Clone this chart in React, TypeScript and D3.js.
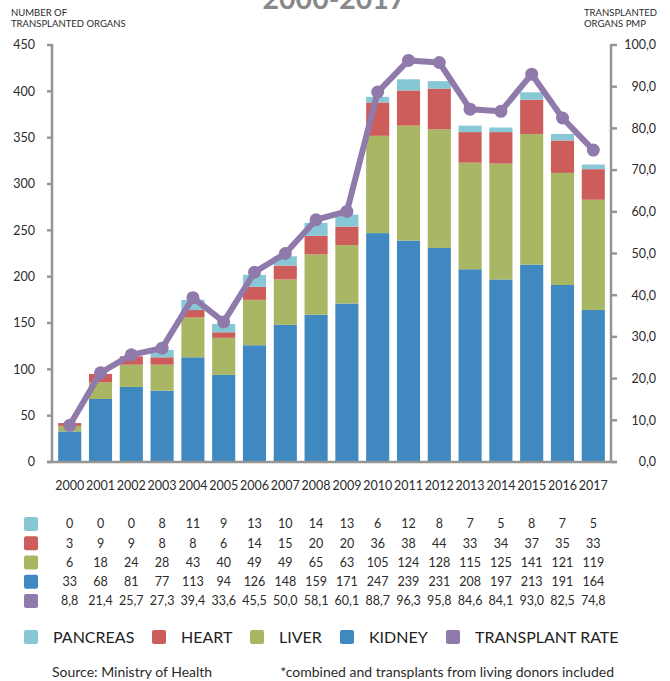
import React, { useEffect, useRef } from "react";
import * as d3 from "d3";

const years = ["2000", "2001", "2002", "2003", "2004", "2005", "2006", "2007", "2008", "2009", "2010", "2011", "2012", "2013", "2014", "2015", "2016", "2017"];
const pancreas = [0, 0, 0, 8, 11, 9, 13, 10, 14, 13, 6, 12, 8, 7, 5, 8, 7, 5];
const heart = [3, 9, 9, 8, 8, 6, 14, 15, 20, 20, 36, 38, 44, 33, 34, 37, 35, 33];
const liver = [6, 18, 24, 28, 43, 40, 49, 49, 65, 63, 105, 124, 128, 115, 125, 141, 121, 119];
const kidney = [33, 68, 81, 77, 113, 94, 126, 148, 159, 171, 247, 239, 231, 208, 197, 213, 191, 164];
const rate = [8.8, 21.4, 25.7, 27.3, 39.4, 33.6, 45.5, 50.0, 58.1, 60.1, 88.7, 96.3, 95.8, 84.6, 84.1, 93.0, 82.5, 74.8];
const leftTicks = [0, 50, 100, 150, 200, 250, 300, 350, 400, 450];
const rightTicks = [0, 10, 20, 30, 40, 50, 60, 70, 80, 90, 100];

const colors = {
  pancreas: "#88c8d6",
  heart: "#cc5d5a",
  liver: "#a9b663",
  kidney: "#3f88c0",
  rate: "#8f7aab",
};

const FONT = "Lato, 'Open Sans', sans-serif";

function App() {
  const ref = useRef<SVGSVGElement>(null);

  useEffect(() => {
    const svg = d3.select(ref.current);
    svg.selectAll("*").remove();

    const left = 52, right = 611, top = 45, bottom = 462;
    const axisColor = "#959595";
    const textColor = "#2b2b2b";

    const x = d3.scaleBand().domain(years).range([left, right]).paddingInner(0.25).paddingOuter(0.2);
    const y = d3.scaleLinear().domain([0, 450]).range([bottom, top]);
    const y2 = d3.scaleLinear().domain([0, 100]).range([bottom, top]);

    // title, mostly cut off at the top (as in the original)
    svg.append("text")
      .attr("x", 334).attr("y", 9)
      .attr("text-anchor", "middle")
      .attr("font-family", FONT).attr("font-weight", "bold")
      .attr("font-size", 28.5).attr("fill", "#88888b")
      .text("2000-2017");

    // axis titles
    const titleL = svg.append("text").attr("font-family", FONT).attr("font-size", 9.5).attr("fill", textColor);
    titleL.append("tspan").attr("x", 11).attr("y", 16).text("NUMBER OF");
    titleL.append("tspan").attr("x", 11).attr("y", 27).text("TRANSPLANTED ORGANS");
    const titleR = svg.append("text").attr("font-family", FONT).attr("font-size", 9.5).attr("fill", textColor);
    titleR.append("tspan").attr("x", 584).attr("y", 16).text("TRANSPLANTED");
    titleR.append("tspan").attr("x", 584).attr("y", 27).text("ORGANS PMP");

    // stacked bars
    const rows = years.map((yr, i) => ({
      year: yr,
      kidney: kidney[i],
      liver: liver[i],
      heart: heart[i],
      pancreas: pancreas[i],
    }));
    const keys = ["kidney", "liver", "heart", "pancreas"];
    const stack = d3.stack<any>().keys(keys)(rows);

    const g = svg.append("g");
    g.selectAll("g.layer")
      .data(stack)
      .join("g")
      .attr("fill", (d) => (colors as any)[d.key])
      .selectAll("rect")
      .data((d) => d)
      .join("rect")
      .attr("x", (d) => x(d.data.year)!)
      .attr("width", x.bandwidth())
      .attr("y", (d) => y(d[1]))
      .attr("height", (d) => y(d[0]) - y(d[1]));

    // axes
    const ax = svg.append("g").attr("stroke", axisColor).attr("stroke-width", 2.5).attr("fill", "none");
    ax.append("line").attr("x1", left).attr("x2", left).attr("y1", top - 1).attr("y2", bottom);
    ax.append("line").attr("x1", right).attr("x2", right).attr("y1", top - 1).attr("y2", bottom);
    ax.append("line").attr("x1", left - 5).attr("x2", right + 6).attr("y1", bottom).attr("y2", bottom);
    ax.selectAll("line.lt").data(leftTicks).join("line")
      .attr("x1", left - 5).attr("x2", left)
      .attr("y1", (d) => y(d)).attr("y2", (d) => y(d));
    ax.selectAll("line.rt").data(rightTicks).join("line")
      .attr("x1", right).attr("x2", right + 6)
      .attr("y1", (d) => y2(d)).attr("y2", (d) => y2(d));

    svg.append("g").selectAll("text").data(leftTicks).join("text")
      .attr("x", 35).attr("y", (d) => y(d)).attr("dy", "0.35em")
      .attr("text-anchor", "end")
      .attr("font-family", FONT).attr("font-size", 12.5).attr("fill", textColor)
      .text((d) => d);
    svg.append("g").selectAll("text").data(rightTicks).join("text")
      .attr("x", 656).attr("y", (d) => y2(d)).attr("dy", "0.35em")
      .attr("text-anchor", "end")
      .attr("font-family", FONT).attr("font-size", 12.5).attr("fill", textColor)
      .text((d) => d3.format(".1f")(d).replace(".", ","));

    // year labels
    svg.append("g").selectAll("text").data(years).join("text")
      .attr("x", (d) => x(d)! + x.bandwidth() / 2).attr("y", 490)
      .attr("text-anchor", "middle")
      .attr("font-family", FONT).attr("font-size", 12.5).attr("fill", textColor)
      .text((d) => d);

    // transplant rate line
    const cx = (i: number) => x(years[i])! + x.bandwidth() / 2;
    const line = d3.line<number>().x((d, i) => cx(i)).y((d) => y2(d));
    svg.append("path")
      .attr("d", line(rate))
      .attr("fill", "none")
      .attr("stroke", colors.rate)
      .attr("stroke-width", 6)
      .attr("stroke-linejoin", "round");
    svg.append("g").selectAll("circle").data(rate).join("circle")
      .attr("cx", (d, i) => cx(i)).attr("cy", (d) => y2(d))
      .attr("r", 6.5).attr("fill", colors.rate);

    // data table
    const table = [
      { color: colors.pancreas, vals: pancreas.map(String) },
      { color: colors.heart, vals: heart.map(String) },
      { color: colors.liver, vals: liver.map(String) },
      { color: colors.kidney, vals: kidney.map(String) },
      { color: colors.rate, vals: rate.map((v) => d3.format(".1f")(v).replace(".", ",")) },
    ];
    const rowY = d3.scalePoint().domain(d3.range(table.length).map(String)).range([524, 601]);
    const tg = svg.append("g");
    table.forEach((row, r) => {
      const yy = rowY(String(r))!;
      tg.append("rect")
        .attr("x", 24).attr("y", yy - 7).attr("width", 14).attr("height", 14)
        .attr("rx", 2).attr("fill", row.color);
      tg.append("g").selectAll("text").data(row.vals).join("text")
        .attr("x", (d, i) => cx(i)).attr("y", yy).attr("dy", "0.35em")
        .attr("text-anchor", "middle")
        .attr("font-family", FONT).attr("font-size", 12.5).attr("fill", textColor)
        .text((d) => d);
    });

    // legend
    const legend = [
      { label: "PANCREAS", color: colors.pancreas, x: 24 },
      { label: "HEART", color: colors.heart, x: 152 },
      { label: "LIVER", color: colors.liver, x: 250 },
      { label: "KIDNEY", color: colors.kidney, x: 340 },
      { label: "TRANSPLANT RATE", color: colors.rate, x: 446 },
    ];
    const lg = svg.append("g").selectAll("g").data(legend).join("g")
      .attr("transform", (d) => `translate(${d.x},637)`);
    lg.append("rect").attr("x", 0).attr("y", -7).attr("width", 14).attr("height", 14).attr("rx", 2)
      .attr("fill", (d) => d.color);
    lg.append("text").attr("x", 29).attr("y", 0).attr("dy", "0.35em")
      .attr("font-family", FONT).attr("font-size", 16).attr("fill", "#222")
      .text((d) => d.label);

    // source notes
    svg.append("text").attr("x", 52).attr("y", 672).attr("dy", "0.35em")
      .attr("font-family", FONT).attr("font-size", 14).attr("fill", textColor)
      .text("Source: Ministry of Health");
    svg.append("text").attr("x", 614).attr("y", 672).attr("dy", "0.35em")
      .attr("text-anchor", "end")
      .attr("font-family", FONT).attr("font-size", 14).attr("fill", textColor)
      .text("*combined and transplants from living donors included");
  }, []);

  return (
    <div style={{ position: "absolute", left: 0, top: 0, background: "#fff" }}>
      <svg ref={ref} width={670} height={681} style={{ display: "block" }} />
    </div>
  );
}

export default App;
